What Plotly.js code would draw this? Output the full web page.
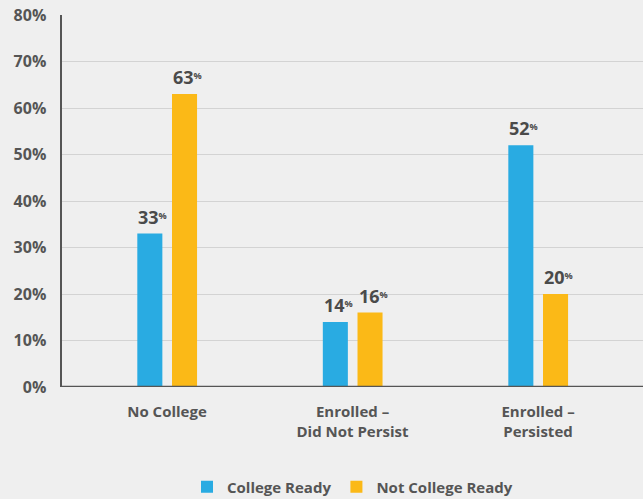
<!DOCTYPE html>
<html><head><meta charset="utf-8">
<script src="https://cdn.plot.ly/plotly-3.0.1.min.js"></script>
<style>html,body{margin:0;padding:0;background:#efefef;}</style>
</head><body>
<div id="chart" style="width:643px;height:499px;"></div>
<script>
const categories = ["No College", "Enrolled –<br>Did Not Persist", "Enrolled –<br>Persisted"];
const collegeReady = [33, 14, 52];
const notCollegeReady = [63, 16, 20];
const seriesNames = ["College Ready", "Not College Ready"];
const yTicks = [0, 10, 20, 30, 40, 50, 60, 70, 80];
const yTickText = yTicks.map(v => v + "%");

const xIdx = categories.map((c, i) => i);
const FAM = "'Open Sans', Roboto, sans-serif";
const labelFont = {family: FAM, size: 18, color: "#4a4a4a", weight: 700};

const traces = [
  {type: "bar", name: seriesNames[0], x: xIdx, y: collegeReady, width: 0.135, offset: -0.16,
   marker: {color: "#29abe2"}, hoverinfo: "skip"},
  {type: "bar", name: seriesNames[1], x: xIdx, y: notCollegeReady, width: 0.135, offset: 0.027,
   marker: {color: "#fbb917"}, hoverinfo: "skip"}
];

const offsets = [-0.16 + 0.0675, 0.027 + 0.0675];
const annotations = [];
[collegeReady, notCollegeReady].forEach((vals, s) => {
  vals.forEach((v, i) => {
    annotations.push({x: i + offsets[s], y: v, xref: "x", yref: "y",
      text: v + "<span style='font-size:13px'><sup>%</sup></span>", showarrow: false,
      yanchor: "bottom", yshift: 3, xshift: 3, font: labelFont});
  });
});

const layout = {
  width: 643, height: 499,
  paper_bgcolor: "#efefef", plot_bgcolor: "#efefef",
  margin: {l: 62, r: 0, t: 15, b: 112, autoexpand: false},
  barmode: "group",
  font: {family: FAM, color: "#555555"},
  xaxis: {
    range: [-0.566, 2.566], tickvals: xIdx, ticktext: categories, automargin: false,
    showgrid: false, zeroline: false, showline: false,
    tickfont: {size: 15, color: "#555555", weight: 700},
    ticks: "outside", ticklen: 11, tickcolor: "rgba(0,0,0,0)", fixedrange: true
  },
  yaxis: {
    range: [0, 80], tickvals: yTicks, ticktext: yTickText, automargin: false,
    showgrid: true, gridcolor: "#d3d3d3", gridwidth: 1,
    zeroline: false, showline: true, linecolor: "#555555", linewidth: 2.5,
    tickfont: {size: 16, color: "#555555", weight: 700},
    ticks: "outside", ticklen: 10, tickcolor: "rgba(0,0,0,0)"
  },
  shapes: [
    {type: "line", xref: "paper", yref: "y", x0: 0, x1: 1, y0: 0, y1: 0,
     line: {color: "#555555", width: 2.5}}
  ],
  annotations: annotations,
  showlegend: true,
  legend: {orientation: "h", x: 0.5, xanchor: "center", yref: "container", y: 0.024, yanchor: "middle",
           font: {size: 15, color: "#555555", weight: 700}, itemwidth: 30, traceorder: "normal"}
};

Plotly.newPlot("chart", traces, layout, {displayModeBar: false, staticPlot: true});
</script>
</body></html>
